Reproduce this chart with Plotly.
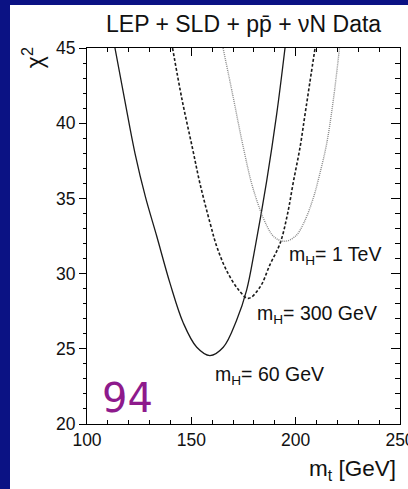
import plotly.graph_objects as go

# chi^2 versus top mass for three Higgs mass hypotheses
mt_60 = [113.4, 118.0, 123.0, 128.0, 133.4, 139.8, 146.2, 152.6, 158.9, 165.3, 171.7, 176.5, 180.5, 186.1, 190.9, 194.9]
chi2_60 = [45.0, 41.6, 38.0, 35.1, 32.5, 29.35, 26.7, 25.1, 24.55, 25.1, 26.9, 28.9, 31.7, 36.15, 40.6, 45.0]

mt_300 = [141.0, 145.5, 150.6, 154.2, 158.9, 162.2, 166.9, 172.5, 177.3, 182.9, 187.7, 192.5, 196.0, 198.9, 202.1, 204.5, 206.9, 209.3]
chi2_300 = [45.0, 41.6, 38.3, 35.95, 33.4, 31.8, 30.2, 28.95, 28.35, 29.1, 30.6, 32.0, 33.9, 36.1, 38.4, 40.6, 42.8, 45.0]

mt_1tev = [165.2, 170.1, 174.9, 179.7, 186.1, 190.0, 194.9, 200.0, 204.0, 208.4, 211.5, 214.8, 218.0, 221.0]
chi2_1tev = [45.0, 41.7, 38.4, 35.6, 33.2, 32.4, 32.15, 32.5, 33.4, 35.0, 36.6, 38.6, 41.5, 45.0]

x_ticks = [100, 150, 200, 250]
y_ticks = [20, 25, 30, 35, 40, 45]

FONT = "Arial, Liberation Sans, sans-serif"
NAVY = "#0b1284"
INK = "#111"

fig = go.Figure()
fig.add_trace(go.Scatter(x=mt_60, y=chi2_60, mode="lines", line=dict(color="#1a1a1a", width=1.3, shape="spline")))
fig.add_trace(go.Scatter(x=mt_300, y=chi2_300, mode="lines",
                         line=dict(color="#1a1a1a", width=1.6, dash="3px,2px", shape="spline")))
fig.add_trace(go.Scatter(x=mt_1tev, y=chi2_1tev, mode="lines",
                         line=dict(color="#8a8a8a", width=1.4, dash="1px,1px", shape="spline")))
# empty trace that carries the mirrored top/right axes
fig.add_trace(go.Scatter(x=[None], y=[None], xaxis="x2", yaxis="y2", showlegend=False))

common = dict(showgrid=False, zeroline=False, showline=True, linecolor="black", linewidth=1, automargin=False)
fig.update_layout(
    width=408, height=489,
    margin=dict(l=87, r=8, t=48, b=65, autoexpand=False),
    paper_bgcolor="white", plot_bgcolor="white",
    showlegend=False,
    font=dict(family=FONT, color=INK),
    xaxis=dict(range=[100, 250], tickvals=x_ticks, ticks="inside", ticklen=7, tickcolor="black",
               ticklabeloverflow="allow",
               minor=dict(dtick=10, ticks="inside", ticklen=4, tickcolor="black"),
               tickfont=dict(size=17.5, family=FONT, color=INK), **common),
    yaxis=dict(range=[20, 45], tickvals=y_ticks, ticks="outside", ticklen=7, tickcolor="black",
               minor=dict(dtick=1, ticks="outside", ticklen=3, tickcolor="black"),
               tickfont=dict(size=17.5, family=FONT, color=INK), **common),
    xaxis2=dict(range=[100, 250], overlaying="x", side="top", tickvals=x_ticks, ticks="inside",
                ticklen=8, tickcolor="black", showticklabels=False,
                minor=dict(dtick=10, ticks="inside", ticklen=4, tickcolor="black"), **common),
    yaxis2=dict(range=[20, 45], overlaying="y", side="right", tickvals=y_ticks, ticks="inside",
                ticklen=9, tickcolor="black", showticklabels=False,
                minor=dict(dtick=1, ticks="inside", ticklen=5, tickcolor="black"), **common),
)

# slide frame: navy strips on the left and top
fig.add_shape(type="rect", xref="paper", yref="paper", x0=-87 / 313, x1=-77 / 313, y0=-65 / 376, y1=472 / 376,
              fillcolor=NAVY, line_width=0, layer="below")
fig.add_shape(type="rect", xref="paper", yref="paper", x0=-87 / 313, x1=330 / 313, y0=419 / 376, y1=472 / 376,
              fillcolor=NAVY, line_width=0, layer="below")

fig.add_annotation(text="LEP + SLD + pp\u0304 + \u03bdN Data", xref="paper", yref="paper", x=0.5, y=1.064,
                   showarrow=False, font=dict(size=23, family=FONT, color=INK), xanchor="center", yanchor="middle")
fig.add_annotation(text="\u03c7<sup>2</sup>", xref="paper", yref="paper", x=-0.1725, y=0.973, textangle=-90,
                   showarrow=False, font=dict(size=23, family=FONT, color=INK), xanchor="center", yanchor="middle")
fig.add_annotation(text="m<sub>t</sub> [GeV]", xref="paper", yref="paper", x=0.994, y=-0.122,
                   showarrow=False, font=dict(size=22.5, family=FONT, color=INK), xanchor="right", yanchor="middle")

label_font = dict(size=19.5, family=FONT, color=INK)
fig.add_annotation(text="m<sub>H</sub>= 1 TeV", x=195.7, y=31.2, showarrow=False, font=label_font,
                   xanchor="left", yanchor="middle")
fig.add_annotation(text="m<sub>H</sub>= 300 GeV", x=180.5, y=27.25, showarrow=False, font=label_font,
                   xanchor="left", yanchor="middle")
fig.add_annotation(text="m<sub>H</sub>= 60 GeV", x=160.5, y=23.2, showarrow=False, font=label_font,
                   xanchor="left", yanchor="middle")
fig.add_annotation(text="94", x=106.0, y=21.75, showarrow=False, xanchor="left", yanchor="middle",
                   font=dict(size=40, family="Comic Sans MS, DejaVu Sans ExtraLight, DejaVu Sans, sans-serif",
                             color="#8e1a8c"))

fig.write_html("out.html")
